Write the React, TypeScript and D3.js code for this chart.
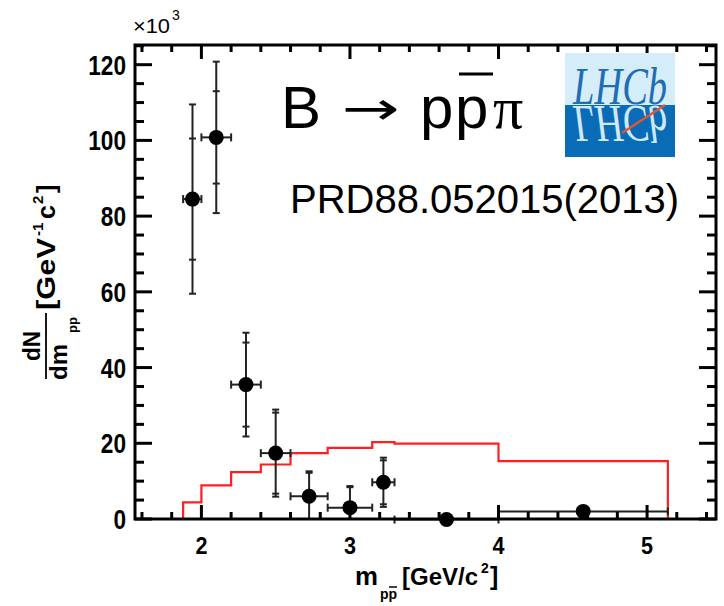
import React from 'react';
import * as d3 from 'd3';

// ---- data ----
const binEdges = [1.877, 2.0, 2.2, 2.4, 2.6, 2.85, 3.15, 3.3, 4.0, 5.14];
const xCenters = [1.94, 2.1, 2.3, 2.5, 2.725, 3.0, 3.225, 3.65, 4.57];
const yValues = [84.5, 100.8, 35.5, 17.4, 6.0, 3.0, 9.7, -0.15, 2.0];
const statErr = [16, 12.2, 11.1, 10.7, 6.2, 5.4, 5.8, 0.5, 0.4];
const totErr = [25, 20, 13.7, 11.5, 6.6, 5.7, 6.5, 0.8, 0.6];
const modelValues = [4.4, 8.9, 12.4, 14.4, 17.4, 18.8, 20.3, 19.9, 15.3];
const yTicks = [0, 20, 40, 60, 80, 100, 120];
const xTicks = [2, 3, 4, 5];

const W = 724, H = 606;
const L = 135, R = 716, T = 45, B = 519;
const BOLD = "'Liberation Sans', Arial, sans-serif";
const SANS = "'Liberation Sans', Arial, sans-serif";
const SERIF = "'Liberation Serif', 'Times New Roman', serif";

export default function App() {
  const x = d3.scaleLinear().domain([1.553, 5.464]).range([L, R]);
  const y = d3.scaleLinear().domain([0, 125.2]).range([B, T]);

  const yMinor = d3.range(0, 126, 5);
  const xMinor = d3.range(1.6, 5.46, 0.2);

  const histPts: [number, number][] = [[binEdges[0], 0]];
  modelValues.forEach((v, i) => {
    histPts.push([binEdges[i], v]);
    histPts.push([binEdges[i + 1], v]);
  });
  histPts.push([binEdges[binEdges.length - 1], 0]);
  const histLine = d3.line<[number, number]>().x(d => x(d[0])).y(d => y(d[1]));

  const cap = 3.5;
  const hcap = 4;

  return (
    <svg width={W} height={H} style={{ position: 'absolute', left: 0, top: 0, background: '#fff' }}>
      {/* red model histogram */}
      <path d={histLine(histPts) || ''} fill="none" stroke="#ff1f1f" strokeWidth={2.2} />

      {/* data points */}
      {xCenters.map((xc, i) => {
        const cx = x(xc), cy = y(yValues[i]);
        const lo = binEdges[i], hi = binEdges[i + 1];
        const tTop = y(yValues[i] + totErr[i]);
        const tBot = y(Math.max(0, yValues[i] - totErr[i]));
        const sTop = y(yValues[i] + statErr[i]);
        const sBotV = yValues[i] - statErr[i];
        return (
          <g key={i} stroke="#222" strokeWidth={2}>
            <line x1={cx} x2={cx} y1={tTop} y2={tBot} />
            <line x1={cx - cap} x2={cx + cap} y1={tTop} y2={tTop} />
            {yValues[i] - totErr[i] > 0 && <line x1={cx - cap} x2={cx + cap} y1={tBot} y2={tBot} />}
            <line x1={cx - cap} x2={cx + cap} y1={sTop} y2={sTop} />
            {sBotV > 0 && <line x1={cx - cap} x2={cx + cap} y1={y(sBotV)} y2={y(sBotV)} />}
            <line x1={x(lo)} x2={x(hi)} y1={cy} y2={cy} />
            <line x1={x(lo)} x2={x(lo)} y1={cy - hcap} y2={cy + hcap} />
            <line x1={x(hi)} x2={x(hi)} y1={cy - hcap} y2={cy + hcap} />
            <circle cx={cx} cy={cy} r={7.5} fill="#000" stroke="none" />
          </g>
        );
      })}

      {/* ticks */}
      <g stroke="#000" strokeWidth={3}>
        {yMinor.map(v => {
          const major = v % 20 === 0;
          const len = major ? 17 : 9;
          return (
            <g key={'y' + v}>
              <line x1={L} x2={L + len} y1={y(v)} y2={y(v)} />
              <line x1={R} x2={R - len} y1={y(v)} y2={y(v)} />
            </g>
          );
        })}
        {xMinor.map(v => {
          const major = Math.abs(v - Math.round(v)) < 1e-6;
          const len = major ? 14 : 7;
          return (
            <g key={'x' + v.toFixed(2)}>
              <line x1={x(v)} x2={x(v)} y1={B} y2={B - len} />
              <line x1={x(v)} x2={x(v)} y1={T} y2={T + len} />
            </g>
          );
        })}
      </g>
      <rect x={L} y={T} width={R - L} height={B - T} fill="none" stroke="#000" strokeWidth={3} />

      {/* tick labels */}
      <g fontFamily={BOLD} fontWeight="bold" fill="#000">
        {yTicks.map(v => (
          <text key={v} x={126} y={y(v) + 10} textAnchor="end" fontSize={27}
            textLength={String(v).length * 12.6} lengthAdjust="spacingAndGlyphs">{v}</text>
        ))}
        {xTicks.map(v => (
          <text key={v} x={x(v)} y={554} textAnchor="middle" fontSize={24}
            textLength={12} lengthAdjust="spacingAndGlyphs">{v}</text>
        ))}
      </g>

      {/* x10^3 */}
      <text x={133} y={33} fontFamily={BOLD} fontSize={21}>
        <tspan textLength={37} lengthAdjust="spacingAndGlyphs">×10</tspan>
        <tspan x={172} y={20} fontSize={14}>3</tspan>
      </text>

      {/* x axis title */}
      <g fontFamily={BOLD} fontWeight="bold" fill="#000">
        <text x={355} y={585} fontSize={25}>
          <tspan textLength={23} lengthAdjust="spacingAndGlyphs">m</tspan>
          <tspan x={380} y={599} fontSize={14}>pp</tspan>
          <tspan x={402} y={585} fontSize={24}>[GeV/c</tspan>
          <tspan x={481} y={573} fontSize={14}>2</tspan>
          <tspan x={490} y={585}>]</tspan>
        </text>
        <line x1={389} x2={397} y1={587} y2={587} stroke="#000" strokeWidth={1.5} />
      </g>

      {/* y axis title */}
      <g transform="translate(46,346) rotate(-90)" fontFamily={BOLD} fontWeight="bold" fill="#000">
        <text x={0} y={-6} textAnchor="middle" fontSize={24} textLength={30} lengthAdjust="spacingAndGlyphs">dN</text>
        <line x1={-33} x2={33} y1={0} y2={0} stroke="#000" strokeWidth={1.8} />
        <text x={-34} y={21} fontSize={24}>
          <tspan>dm</tspan>
          <tspan x={13} y={31} fontSize={13}>pp</tspan>
        </text>
        <text x={36} y={9} fontSize={25}>
          <tspan textLength={72} lengthAdjust="spacingAndGlyphs">[GeV</tspan>
          <tspan x={110} y={-3} fontSize={15}>-1</tspan>
          <tspan x={127} y={9}>c</tspan>
          <tspan x={142} y={-3} fontSize={15}>2</tspan>
          <tspan x={153} y={9}>]</tspan>
        </text>
      </g>

      {/* title */}
      <g fill="#000">
        <text x={281} y={128} fontFamily={SANS} fontSize={60}>B</text>
        <text x={342} y={124} fontFamily="'DejaVu Sans', sans-serif" fontSize={46} textLength={58} lengthAdjust="spacingAndGlyphs">→</text>
        <text x={420} y={128} fontFamily={SANS} fontSize={60}>p</text>
        <text x={455} y={128} fontFamily={SANS} fontSize={60}>p</text>
        <line x1={459} x2={493} y1={74} y2={74} stroke="#000" strokeWidth={3} />
        <text x={493} y={128} fontFamily={SERIF} fontSize={60}>π</text>
        <text x={290} y={213} fontFamily={SANS} fontSize={40}>PRD88.052015(2013)</text>
      </g>

      {/* LHCb logo */}
      <g>
        <rect x={565} y={53} width={110} height={52} fill="#d4edf9" />
        <rect x={565} y={105} width={110} height={52} fill="#0a6cb6" />
        <text x={573} y={104} fontFamily={SERIF} fontStyle="italic" fontSize={52} fill="#1e6db5" textLength={94} lengthAdjust="spacingAndGlyphs">LHCb</text>
        <text x={573} y={-106} transform="scale(1,-1)" fontFamily={SERIF} fontStyle="italic" fontSize={52} fill="#d0e9f7" textLength={94} lengthAdjust="spacingAndGlyphs">LHCb</text>
        <line x1={622} y1={133} x2={665} y2={105} stroke="#e0553a" strokeWidth={2.5} />
      </g>
    </svg>
  );
}
